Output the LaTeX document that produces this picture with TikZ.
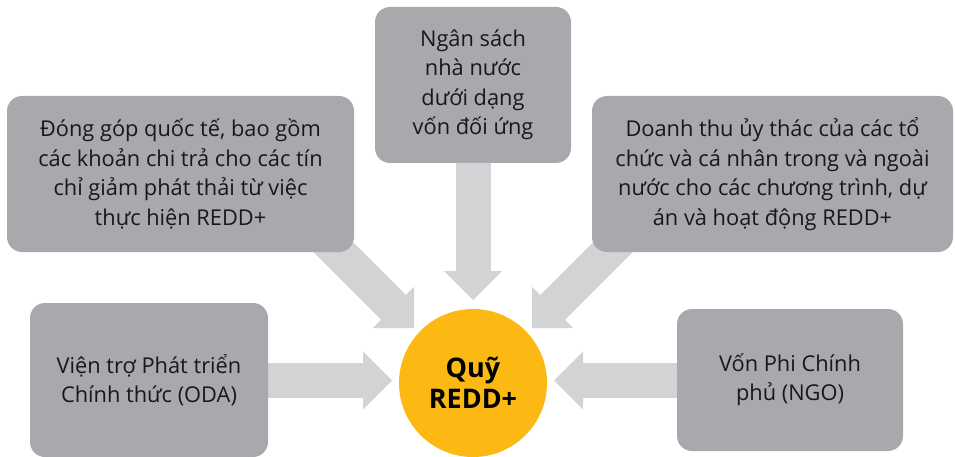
\documentclass[tikz,border=0pt]{standalone}
\usepackage{fontspec}
\setmainfont{Open Sans}
\usetikzlibrary{arrows.meta,backgrounds}

\definecolor{boxgray}{HTML}{A7A9AC}
\definecolor{flowgray}{HTML}{D1D3D4}
\definecolor{fundyellow}{HTML}{FDB913}
\definecolor{inkdark}{HTML}{1A1718}

\tikzset{
    source/.style={fill=boxgray, rounded corners=15pt, align=center, text=inkdark,
        inner sep=0pt, font=\fontsize{21.8}{29.5}\selectfont},
    fund/.style={circle, fill=fundyellow, minimum size=148pt, inner sep=0pt, align=center,
        text=black, font=\fontsize{27}{31}\selectfont\bfseries},
    flow/.style={draw=flowgray, line width=35pt,
        -{Triangle[length=29pt,width=58pt,line width=0pt,color=flowgray]}},
}

\begin{document}
\begin{tikzpicture}[x=1pt,y=-1pt]
    \useasboundingbox (0,0) rectangle (955,457);

    % sources
    \node[source, minimum width=347pt, minimum height=156pt] (intl) at (180.5,174) {Đóng góp quốc tế, bao gồm\\các khoản chi trả cho các tín\\chỉ giảm phát thải từ việc\\thực hiện REDD+};
    \node[source, minimum width=196pt, minimum height=156pt] (state) at (473,85) {Ngân sách\\nhà nước\\dưới dạng\\vốn đối ứng};
    \node[source, minimum width=361pt, minimum height=156pt] (trust) at (772.5,174) {Doanh thu ủy thác của các tổ\\chức và cá nhân trong và ngoài\\nước cho các chương trình, dự\\án và hoạt động REDD+};
    \node[source, minimum width=238pt, minimum height=154pt] (oda) at (149,380) {Viện trợ Phát triển\\Chính thức (ODA)};
    \node[source, minimum width=226pt, minimum height=142pt] (ngo) at (790,380) {Vốn Phi Chính\\phủ (NGO)};

    \node[fund] (fund) at (473,383) {Quỹ\\REDD+};

    % arrow feet and tips
    \coordinate (intlfoot) at (310,224);
    \coordinate (intltip) at (414,328);
    \coordinate (trustfoot) at (636,224);
    \coordinate (trusttip) at (532,328);
    \coordinate (statetip) at (473,300);
    \coordinate (odatip) at (392,380.5);
    \coordinate (ngotip) at (554,380.5);

    \begin{scope}[on background layer]
        \draw[flow] (intlfoot) -- (intltip);
        \draw[flow] (trustfoot) -- (trusttip);
        \draw[flow] (state.center) -- (statetip);
        \draw[flow] (oda.center |- odatip) -- (odatip);
        \draw[flow] (ngo.center |- ngotip) -- (ngotip);
    \end{scope}
\end{tikzpicture}
\end{document}
